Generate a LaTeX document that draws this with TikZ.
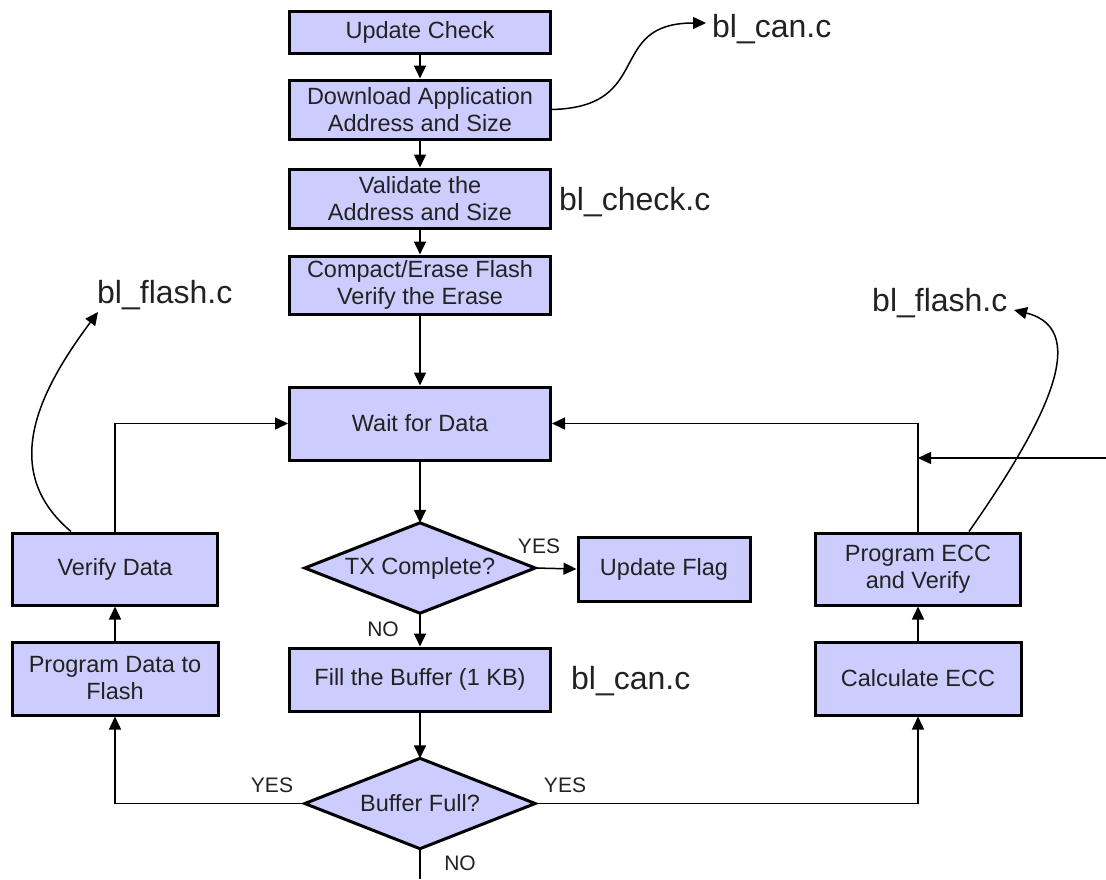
\documentclass[tikz,border=0pt]{standalone}
\usepackage{fontspec}
\setmainfont{Liberation Sans}
\usetikzlibrary{arrows.meta}
\definecolor{boxfill}{HTML}{CCCCFF}
\definecolor{txt}{HTML}{222222}
\tikzset{
  box/.style={draw=black, line width=3pt, fill=boxfill, rectangle, inner sep=0pt,
    align=center, text=txt, font=\fontsize{23.5}{27}\selectfont},
  decframe/.style={rectangle, inner sep=0pt, minimum width=230pt, minimum height=90pt},
  decshape/.style={draw=black, line width=3pt, fill=boxfill, line join=miter},
  dectext/.style={inner sep=0pt, text=txt, font=\fontsize{23.5}{27}\selectfont},
  conn/.style={line width=1.5pt, draw=black},
  arr/.style={conn, -{Triangle[length=13pt,width=12pt]}},
  file/.style={inner sep=0pt, anchor=base west, text=txt, font=\fontsize{32}{36}\selectfont},
  lbl/.style={inner sep=0pt, text=txt, font=\fontsize{21}{24}\selectfont},
}
\begin{document}
\begin{tikzpicture}[x=1pt,y=-1pt]
\useasboundingbox (0,0) rectangle (1106,879);
% main column
\node[box, minimum width=261pt, minimum height=42pt] (upd) at (420,32) {Update Check};
\node[box, minimum width=261pt, minimum height=59pt] (dl) at (420,109.5) {Download Application\\Address and Size};
\node[box, minimum width=261pt, minimum height=59pt] (val) at (420,198.5) {Validate the\\Address and Size};
\node[box, minimum width=261pt, minimum height=58pt] (cmp) at (420,285) {Compact/Erase Flash\\Verify the Erase};
\node[box, minimum width=261pt, minimum height=73pt] (wait) at (420,423.5) {Wait for Data};
% decision 1
\node[decframe] (tx) at (420,568) {};
\filldraw[decshape] (tx.north) -- (tx.east) -- (tx.south) -- (tx.west) -- cycle;
\node[dectext] (txlabel) at (tx) {TX Complete?};
\node[box, minimum width=172pt, minimum height=64pt] (flag) at (664,569) {Update Flag};
\node[box, minimum width=261pt, minimum height=63pt] (fill) at (420,679.5) {Fill the Buffer (1 KB)};
% decision 2
\node[decframe] (full) at (420,803.5) {};
\filldraw[decshape] (full.north) -- (full.east) -- (full.south) -- (full.west) -- cycle;
\node[dectext] (fulllabel) at (full) {Buffer Full?};
% left column
\node[box, minimum width=205pt, minimum height=72pt] (vfy) at (115,569) {Verify Data};
\node[box, minimum width=206pt, minimum height=73pt] (pdf) at (115,678.5) {Program Data to\\Flash};
% right column
\node[box, minimum width=205pt, minimum height=72pt] (pecc) at (918,569) {Program ECC\\and Verify};
\node[box, minimum width=206pt, minimum height=73pt] (cecc) at (918,678.5) {Calculate ECC};
% file labels
\node[file] (fcan1) at (712,37) {bl\_can.c};
\node[file] (fcheck) at (559,210) {bl\_check.c};
\node[file] (fflashl) at (97,303) {bl\_flash.c};
\node[file] (fflashr) at (872,311) {bl\_flash.c};
\node[file] (fcan2) at (571,689) {bl\_can.c};
% coordinates
\coordinate (bottom) at (420,879);
\coordinate (rin) at (1106,458);
\coordinate (tipcan) at (706,23);
\coordinate (tipfl) at (98,312);
\coordinate (tipfr) at (1014,310);
% connectors
\draw[arr] (upd) -- (dl);
\draw[arr] (dl) -- (val);
\draw[arr] (val) -- (cmp);
\draw[arr] (cmp) -- (wait);
\draw[arr] (wait) -- (tx.north);
\draw[arr] (tx.east) -- (flag.west);
\draw[arr] (tx.south) -- (fill.north);
\draw[arr] (fill.south) -- (full.north);
\draw[conn] (full.south) -- (bottom);
\draw[arr] (full.west) -| (pdf.south);
\draw[arr] (full.east) -| (cecc.south);
\draw[arr] (pdf) -- (vfy);
\draw[arr] (cecc) -- (pecc);
\draw[arr] (vfy.north) |- (wait.west);
\draw[arr] (pecc.north) |- (wait.east);
\draw[arr] (rin) -- (rin -| pecc.north);
% curved links to files
\draw[arr] (dl.east) .. controls (655,107) and (605,23) .. (tipcan);
\draw[arr] ([xshift=-44pt]vfy.north) .. controls (-2,470) and (40,390) .. (tipfl);
\draw[arr] ([xshift=51pt]pecc.north) .. controls (1040,430) and (1095,330) .. (tipfr);
% YES / NO labels
\node[lbl, anchor=base] (ytx) at (539,553) {YES};
\node[lbl, anchor=base] (ntx) at (383,636) {NO};
\node[lbl, anchor=base] (yl) at (272,792) {YES};
\node[lbl, anchor=base] (yr) at (565,792) {YES};
\node[lbl, anchor=base] (nb) at (460,870) {NO};
\end{tikzpicture}
\end{document}
